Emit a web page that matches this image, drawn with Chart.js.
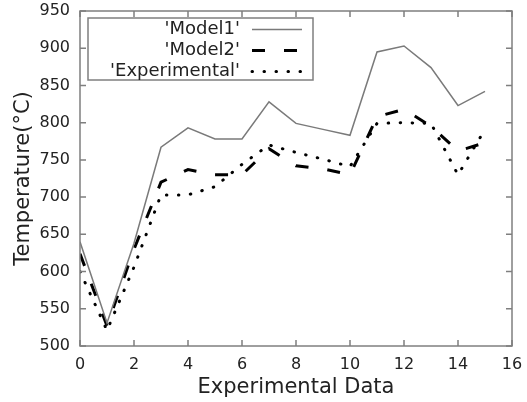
<!DOCTYPE html>
<html lang="en">
<head>
    <meta charset="UTF-8">
    <title>Temperature vs Experimental Data</title>
    <script src="https://cdn.jsdelivr.net/npm/chart.js"></script>
    <style>
        html, body { margin: 0; padding: 0; background: #fff; }
        #tempChart { display: block; }
    </style>
</head>
<body>
    <canvas id="tempChart" width="527" height="402"></canvas>

    <script>
        // data
        const runs = [0, 1, 2, 3, 4, 5, 6, 7, 8, 9, 10, 11, 12, 13, 14, 15];
        const model1 = [640, 531, 638, 767, 793, 778, 778, 828, 799, 791, 783, 895, 903, 874, 823, 842];
        const model2 = [624, 527, 630, 720, 737, 730, 730, 765, 742, 738, 730, 808, 818, 795, 762, 773];
        const experimental = [600, 521, 606, 703, 703, 714, 744, 770, 760, 751, 741, 799, 800, 799, 730, 791];
        const seriesNames = ["'Model1'", "'Model2'", "'Experimental'"];

        const fontFamily = '"DejaVu Sans", sans-serif';
        const frameColor = '#7f7f7f';

        function toPoints(values) {
            return runs.map((r, i) => ({ x: r, y: values[i] }));
        }

        const lineStyles = [
            { color: '#7a7a7a', width: 1.5, dash: [], cap: 'butt' },
            { color: '#000000', width: 3, dash: [13, 19], cap: 'butt' },
            { color: '#000000', width: 3, dash: [0.5, 11.5], cap: 'round' }
        ];

        function drawKey(chart) {
            const ctx = chart.ctx;
            const bx = 88, by = 18, bw = 225, bh = 62;
            ctx.fillStyle = '#fff';
            ctx.fillRect(bx, by, bw, bh);
            ctx.strokeStyle = frameColor;
            ctx.lineWidth = 1.5;
            ctx.setLineDash([]);
            ctx.strokeRect(bx, by, bw, bh);
            ctx.font = '18px ' + fontFamily;
            ctx.textAlign = 'right';
            ctx.textBaseline = 'middle';
            ctx.fillStyle = '#222';
            chart.data.datasets.forEach((ds, i) => {
                const rowY = by + 11 + i * 21;
                ctx.fillText(ds.label, 240, rowY);
                const st = lineStyles[i];
                ctx.save();
                ctx.strokeStyle = st.color;
                ctx.lineWidth = st.width;
                ctx.lineCap = st.cap;
                ctx.setLineDash(st.dash);
                ctx.beginPath();
                ctx.moveTo(252, rowY + 0.5);
                ctx.lineTo(302, rowY + 0.5);
                ctx.stroke();
                ctx.restore();
            });
        }

        // gnuplot-ish frame: border, inward ticks on all sides, boxed key
        const framePlugin = {
            id: 'gnuframe',
            afterDraw(chart) {
                const ctx = chart.ctx;
                const xs = chart.scales.x, ys = chart.scales.y;
                const left = xs.left, right = xs.right;
                const top = ys.top, bottom = ys.bottom;
                ctx.save();
                ctx.setLineDash([]);
                ctx.strokeStyle = frameColor;
                ctx.lineWidth = 1.5;
                ctx.strokeRect(left, top, right - left, bottom - top);
                ctx.beginPath();
                xs.ticks.forEach(t => {
                    const px = xs.getPixelForValue(t.value);
                    ctx.moveTo(px, bottom);
                    ctx.lineTo(px, bottom - 6);
                    ctx.moveTo(px, top);
                    ctx.lineTo(px, top + 6);
                });
                ys.ticks.forEach(t => {
                    const py = ys.getPixelForValue(t.value);
                    ctx.moveTo(left, py);
                    ctx.lineTo(left + 6, py);
                    ctx.moveTo(right, py);
                    ctx.lineTo(right - 6, py);
                });
                ctx.stroke();
                drawKey(chart);
                ctx.restore();
            }
        };

        const ctx = document.getElementById('tempChart').getContext('2d');
        const chart = new Chart(ctx, {
            type: 'line',
            data: {
                datasets: [model1, model2, experimental].map((vals, i) => ({
                    label: seriesNames[i],
                    data: toPoints(vals),
                    borderColor: lineStyles[i].color,
                    borderWidth: lineStyles[i].width,
                    borderDash: lineStyles[i].dash,
                    borderCapStyle: lineStyles[i].cap,
                    pointRadius: 0,
                    pointHoverRadius: 0,
                    tension: 0,
                    fill: false
                }))
            },
            options: {
                responsive: false,
                animation: false,
                layout: { padding: { top: 11, right: 15, left: 0, bottom: 0 } },
                plugins: {
                    legend: { display: false },
                    tooltip: { enabled: false }
                },
                scales: {
                    x: {
                        type: 'linear',
                        min: 0,
                        max: 16,
                        border: { display: false },
                        grid: { display: false, drawTicks: false },
                        ticks: {
                            stepSize: 2,
                            padding: 9,
                            color: '#222',
                            font: { family: fontFamily, size: 16 }
                        },
                        title: {
                            display: true,
                            text: 'Experimental Data',
                            color: '#222',
                            font: { family: fontFamily, size: 21 },
                            padding: { top: 0, bottom: 2 }
                        },
                        afterFit(scale) {
                            scale.height = 56;
                            scale.paddingLeft = 0;
                            scale.paddingRight = 0;
                        }
                    },
                    y: {
                        min: 500,
                        max: 950,
                        border: { display: false },
                        grid: { display: false, drawTicks: false },
                        ticks: {
                            stepSize: 50,
                            padding: 10,
                            color: '#222',
                            font: { family: fontFamily, size: 16 }
                        },
                        title: {
                            display: true,
                            text: 'Temperature(°C)',
                            color: '#222',
                            font: { family: fontFamily, size: 21 },
                            padding: { top: 11, bottom: 0 }
                        },
                        afterFit(scale) {
                            scale.width = 80;
                            scale.paddingTop = 0;
                            scale.paddingBottom = 0;
                        }
                    }
                }
            },
            plugins: [framePlugin]
        });
    </script>
</body>
</html>
